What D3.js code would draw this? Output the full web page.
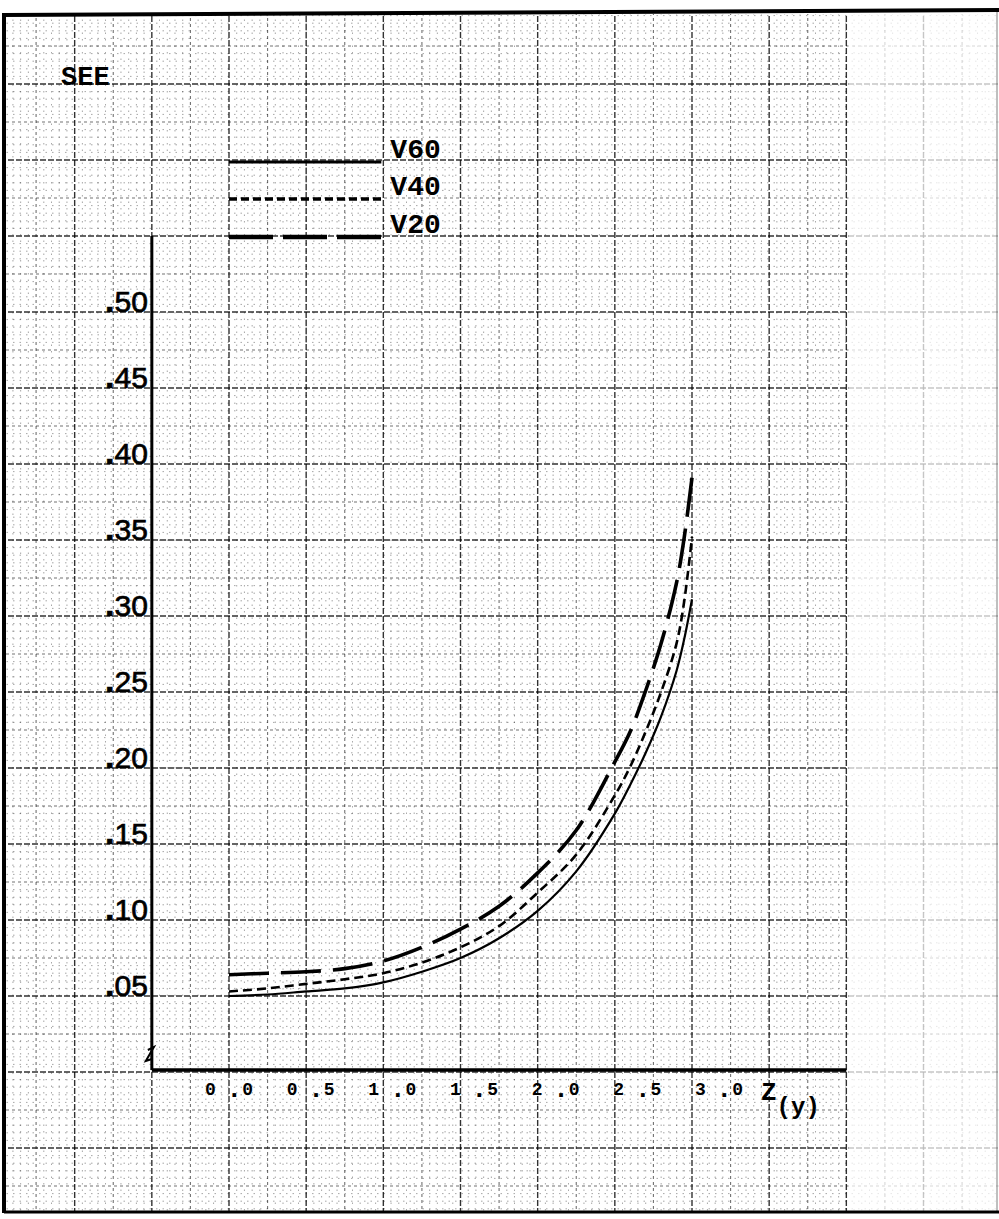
<!DOCTYPE html>
<html>
<head>
<meta charset="utf-8">
<script src="https://cdn.jsdelivr.net/npm/d3@7"></script>
<style>
  html, body { margin: 0; padding: 0; background: #fff; }
  svg { display: block; }
  .mono { font-family: "Liberation Mono", "DejaVu Sans Mono", monospace; font-weight: bold; }
  .hand { font-family: "Liberation Sans", Arial, sans-serif; }
</style>
</head>
<body>
<svg id="chart"></svg>
<script>
// values
const zValues = [0, 0.25, 0.5, 0.75, 1.0, 1.25, 1.5, 1.75, 2.0, 2.25, 2.5, 2.6, 2.7, 2.8, 2.9, 2.95, 3.0];
const v60 = [0.050, 0.051, 0.053, 0.055, 0.059, 0.066, 0.075, 0.088, 0.106, 0.132, 0.170, 0.189, 0.210, 0.234, 0.264, 0.285, 0.311];
const v40 = [0.053, 0.055, 0.058, 0.061, 0.065, 0.072, 0.082, 0.096, 0.118, 0.143, 0.182, 0.201, 0.224, 0.250, 0.282, 0.310, 0.352];
const v20 = [0.064, 0.065, 0.066, 0.068, 0.073, 0.082, 0.094, 0.109, 0.131, 0.159, 0.204, 0.224, 0.251, 0.282, 0.322, 0.352, 0.391];

const seriesNames = ["V60", "V40", "V20"];
const yTicks = [0.05, 0.10, 0.15, 0.20, 0.25, 0.30, 0.35, 0.40, 0.45, 0.50];
const xTicks = [0, 0.5, 1.0, 1.5, 2.0, 2.5, 3.0];
const yLabel = "SEE";
const xLabel = "Z";
const xLabelSub = "(y)";

const width = 999, height = 1219;

const x = d3.scaleLinear().domain([0, 3]).range([229, 692]);
const y = d3.scaleLinear().domain([0, 0.5]).range([1072, 312]);
// typed tick labels on the paper drift a little to the right of the grid
const xText = d3.scaleLinear().domain([0, 3]).range([229, 719]);

const svg = d3.select("#chart")
    .attr("width", width)
    .attr("height", height)
    .attr("viewBox", `0 0 ${width} ${height}`);

svg.append("defs").append("clipPath")
    .attr("id", "paper")
    .append("rect")
        .attr("x", 6).attr("y", 14)
        .attr("width", width - 6).attr("height", 1197);

// graph paper
const grid = svg.append("g").attr("clip-path", "url(#paper)");

function gridStyle(sel, i) {
    let major = i % 10 === 0, mid = i % 5 === 0;
    sel.attr("stroke", "#000")
        .attr("stroke-width", major ? 1.4 : mid ? 1.1 : 0.9)
        .attr("stroke-dasharray", major ? "6,2" : mid ? "3,3" : "1.5,5")
        .attr("opacity", major ? 0.8 : mid ? 0.55 : 0.38);
}

d3.range(-30, 101).forEach(i => {
    let px = x(i * 0.05);
    grid.append("line")
        .attr("x1", px).attr("x2", px)
        .attr("y1", 0).attr("y2", height)
        .call(gridStyle, i);
});

d3.range(-20, 141).forEach(i => {
    let py = y(i * 0.005);
    grid.append("line")
        .attr("x1", 0).attr("x2", width)
        .attr("y1", py).attr("y2", py)
        .call(gridStyle, i);
});

// right part of the sheet is washed out on the scan
svg.append("rect")
    .attr("x", x(4.0) + 2).attr("y", 0)
    .attr("width", width - x(4.0)).attr("height", height)
    .attr("fill", "#fff").attr("opacity", 0.72);

// sheet border
let border = svg.append("g").attr("stroke", "#000").attr("fill", "none");
border.append("line").attr("x1", 4).attr("y1", 15).attr("x2", width).attr("y2", 10).attr("stroke-width", 4);
border.append("line").attr("x1", 4).attr("y1", 13).attr("x2", 4).attr("y2", 1213).attr("stroke-width", 4);
border.append("line").attr("x1", 4).attr("y1", 1212).attr("x2", width).attr("y2", 1212).attr("stroke-width", 3);
border.append("line").attr("x1", 997).attr("y1", 10).attr("x2", 997).attr("y2", 1212).attr("stroke-width", 1).attr("opacity", 0.5);

// axes
let axes = svg.append("g").attr("stroke", "#000").attr("fill", "none");
axes.append("line")
    .attr("x1", x(-0.5)).attr("x2", x(-0.5))
    .attr("y1", y(0.55)).attr("y2", y(0) - 2)
    .attr("stroke-width", 3);
axes.append("line")
    .attr("x1", x(-0.5)).attr("x2", x(4.0))
    .attr("y1", y(0) - 2).attr("y2", y(0) - 2)
    .attr("stroke-width", 3.5);
// little break mark at the origin
axes.append("path")
    .attr("d", `M${x(-0.5) - 4},${y(0) - 22} l6,-3 l-8,14 l6,-2`)
    .attr("stroke-width", 2);

// y tick labels, lettered ".50" with a heavy dot
let yLab = svg.append("g")
    .selectAll("text")
    .data(yTicks)
    .join("text")
        .attr("class", "hand")
        .attr("x", x(-0.5) - 4)
        .attr("y", d => y(d))
        .attr("text-anchor", "end")
        .attr("font-size", 30)
        .attr("stroke", "#000")
        .attr("stroke-width", 0.7);
yLab.append("tspan")
    .attr("font-size", 34)
    .attr("font-weight", "bold")
    .text(".");
yLab.append("tspan")
    .text(d => d3.format(".2f")(d).replace(/^0\./, ""));

// x tick labels, typed "0 .0" style
let xLab = svg.append("g")
    .selectAll("text")
    .data(xTicks)
    .join("text")
        .attr("class", "mono")
        .attr("x", d => xText(d))
        .attr("y", 1095)
        .attr("text-anchor", "middle")
        .attr("font-size", 18)
        .attr("xml:space", "preserve");
xLab.append("tspan").text(d => d3.format(".1f")(d).split(".")[0] + " ");
xLab.append("tspan").attr("font-size", 26).attr("dy", 2).text(".");
xLab.append("tspan").attr("dy", -2).text(d => d3.format(".1f")(d).split(".")[1]);

svg.append("text")
    .attr("class", "mono")
    .attr("x", 761).attr("y", 1100)
    .attr("font-size", 26)
    .text(xLabel)
    .append("tspan")
        .attr("dy", 14)
        .attr("font-size", 24)
        .text(xLabelSub);

svg.append("text")
    .attr("class", "mono")
    .attr("x", 61).attr("y", 85)
    .attr("font-size", 27)
    .text(yLabel);

// curves
const styles = {
    V60: { dash: null, w: 2.2 },
    V40: { dash: "9,5", w: 2.6 },
    V20: { dash: "40,12", w: 3.6 }
};
const seriesValues = [v60, v40, v20];

const line = d3.line()
    .curve(d3.curveCatmullRom.alpha(0.5))
    .x(d => x(d[0]))
    .y(d => y(d[1]));

svg.append("g")
    .selectAll("path")
    .data(seriesNames)
    .join("path")
        .attr("d", (name, i) => line(zValues.map((z, j) => [z, seriesValues[i][j]])))
        .attr("fill", "none")
        .attr("stroke", "#000")
        .attr("stroke-width", name => styles[name].w)
        .attr("stroke-dasharray", name => styles[name].dash)
        .attr("stroke-linecap", "butt");

// legend
const legendY = [y(0.60) + 2, y(0.575) + 1, y(0.55) + 1];
let legend = svg.append("g")
    .selectAll("g")
    .data(seriesNames)
    .join("g");

legend.append("line")
    .attr("x1", x(0)).attr("x2", x(1.0) - 2)
    .attr("y1", (d, i) => legendY[i]).attr("y2", (d, i) => legendY[i])
    .attr("stroke", "#000")
    .attr("stroke-width", d => styles[d].w + 0.8)
    .attr("stroke-dasharray", d => d === "V20" ? "44,10" : d === "V40" ? "8,4" : null);

legend.append("text")
    .attr("class", "mono")
    .attr("x", x(1.0) + 7)
    .attr("y", (d, i) => legendY[i] - 4)
    .attr("font-size", 28)
    .text(d => d);
</script>
</body>
</html>
